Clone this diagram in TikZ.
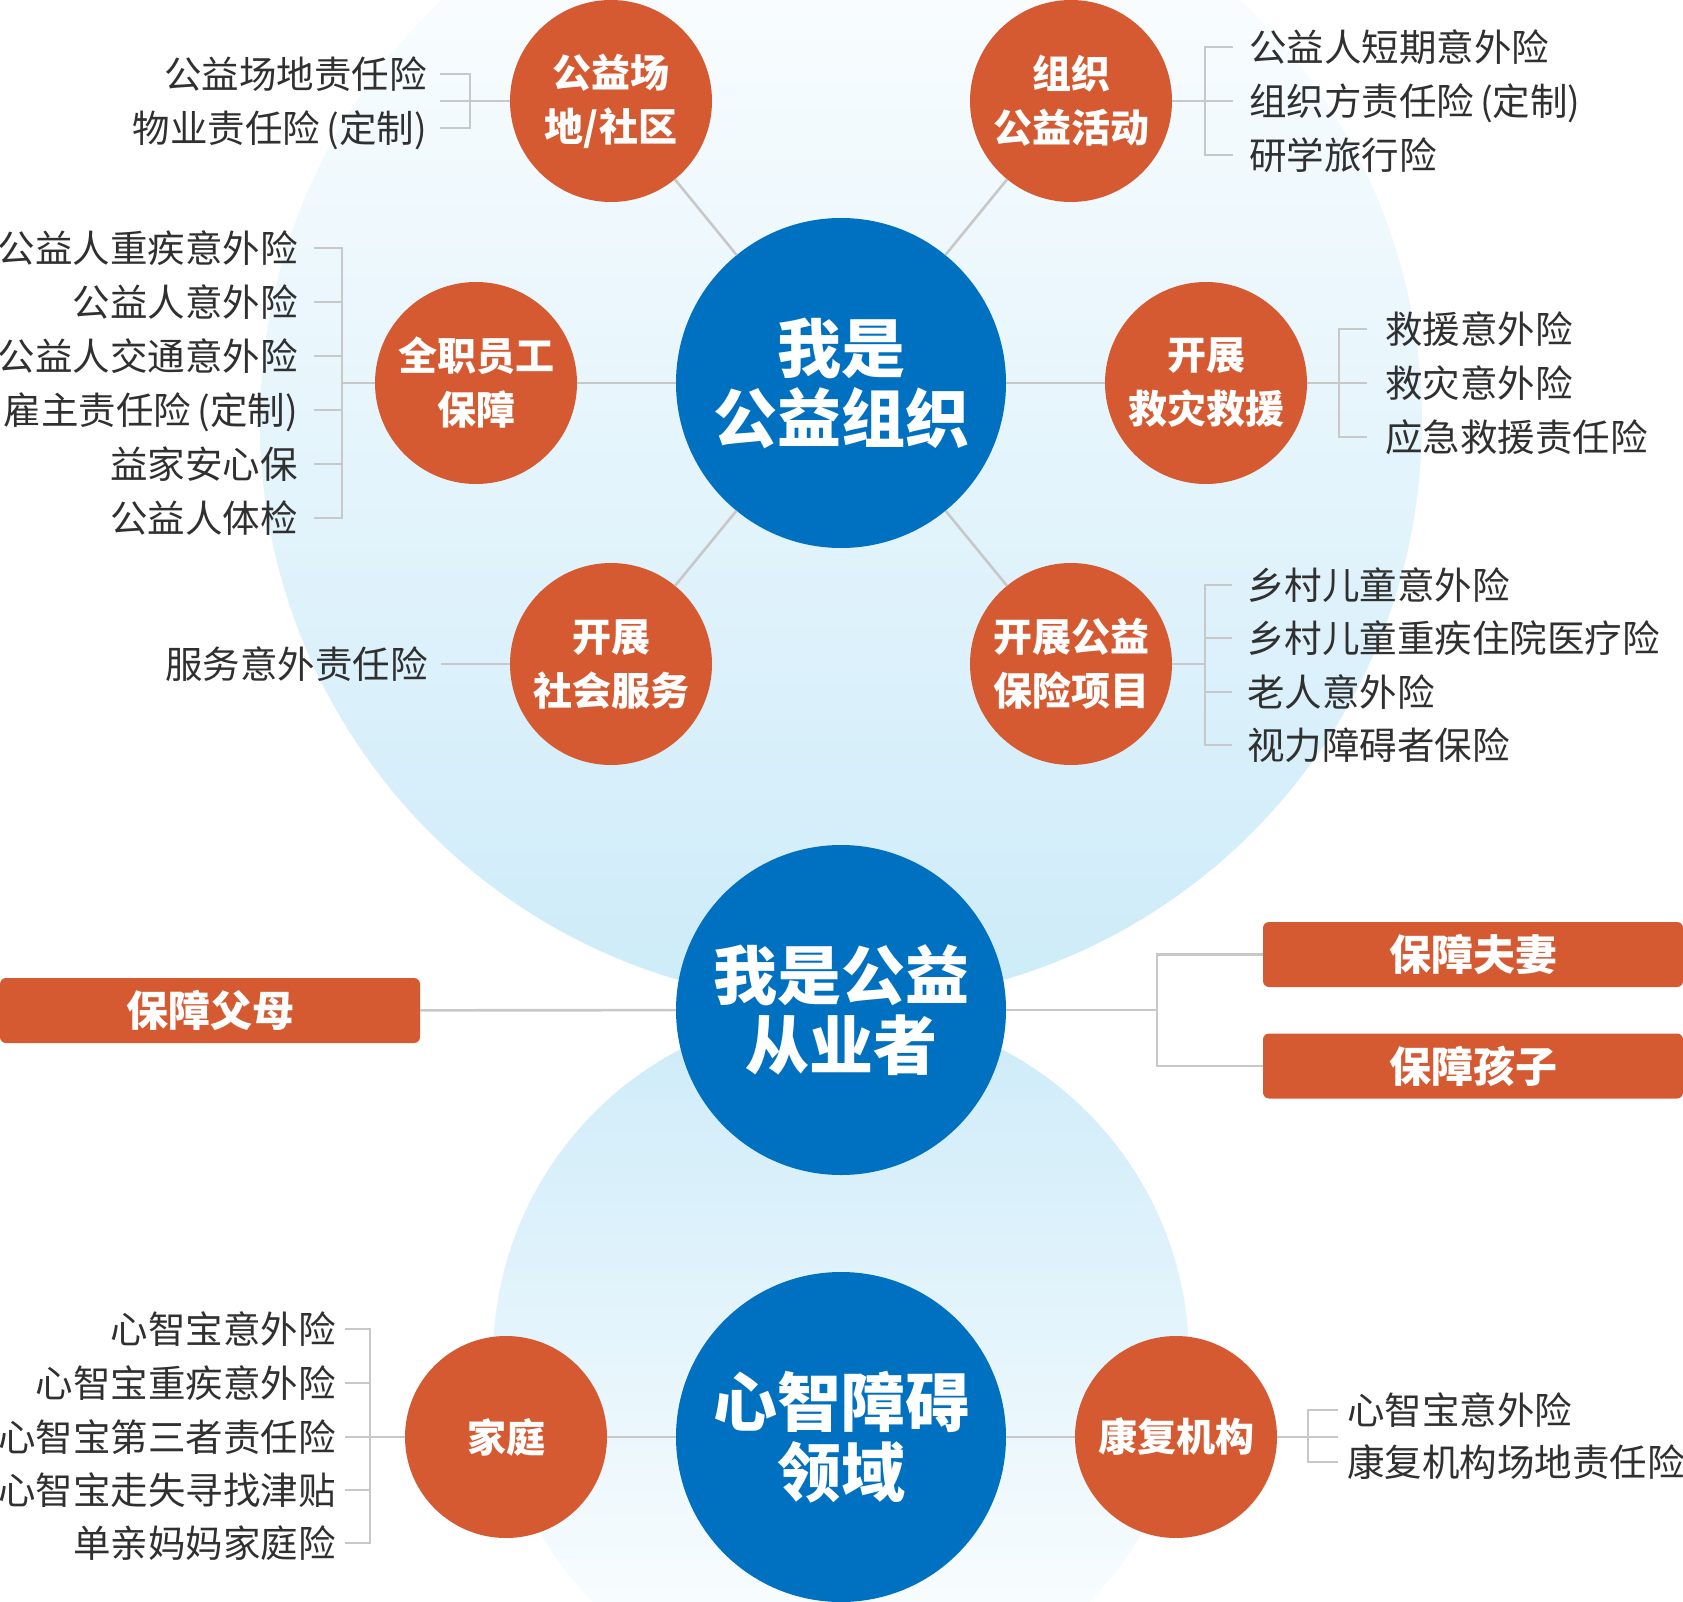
\documentclass[tikz,border=0pt]{standalone}
\usepackage{fontspec}
\setmainfont{Noto Sans CJK SC}
\definecolor{org}{HTML}{D65A31}
\definecolor{hubblue}{HTML}{0070C0}
\definecolor{bgblue}{HTML}{CDEBF9}
\definecolor{linegray}{HTML}{C8C8C8}
\definecolor{txt}{HTML}{303030}
\newcommand{\pl}{\kern6pt(}
\begin{document}
\begin{tikzpicture}[x=1pt,y=-1pt,
  conn/.style={draw=linegray, line width=2.6pt},
  hub/.style={circle, fill=hubblue, minimum size=330pt, inner sep=0pt, text=white, align=center, font=\fontsize{64}{70}\selectfont\bfseries},
  sub/.style={circle, fill=org, minimum size=202pt, inner sep=0pt, text=white, align=center, font=\fontsize{39}{54}\selectfont\bfseries},
  item/.style={inner sep=0pt, text=txt, text height=33pt, text depth=4.5pt, font=\fontsize{37.5}{45}\selectfont},
  bar/.style={rectangle, rounded corners=6pt, fill=org, minimum width=420pt, minimum height=65pt, inner sep=0pt, text=white, font=\fontsize{42}{50}\selectfont\bfseries}]
\useasboundingbox (0,0) rectangle (1683,1602);
\clip (0,0) rectangle (1683,1602);
% background halos
\shade[top color=white, middle color=bgblue!45, bottom color=bgblue] (841,422) circle (581);
\shade[top color=bgblue, bottom color=white] (841,1358) circle (348);

% hubs
\node[hub] (top) at (841,383) {我是\\公益组织};
\node[hub] (mid) at (841,1010) {我是公益\\从业者};
\node[hub] (bot) at (841,1437) {心智障碍\\领域};

% orange circles
\node[sub] (o1) at (611,101) {公益场\\地/社区};
\node[sub] (o2) at (1071,101) {组织\\公益活动};
\node[sub] (o3) at (476,383) {全职员工\\保障};
\node[sub] (o4) at (1206,383) {开展\\救灾救援};
\node[sub] (o5) at (611,664) {开展\\社会服务};
\node[sub] (o6) at (1071,664) {开展公益\\保险项目};
\node[sub] (o7) at (506,1437) {家庭};
\node[sub] (o8) at (1176,1437) {康复机构};

% bars
\node[bar] (b1) at (210,1010.5) {保障父母};
\node[bar] (b2) at (1473,954.5) {保障夫妻};
\node[bar] (b3) at (1473,1066) {保障孩子};

% items
\node[item, anchor=east] (p1) at (427,74) {公益场地责任险};
\node[item, anchor=east] (p2) at (427,128) {物业责任险\pl 定制)};
\node[item, anchor=west] (r1) at (1249,47) {公益人短期意外险};
\node[item, anchor=west] (r2) at (1249,101) {组织方责任险\pl 定制)};
\node[item, anchor=west] (r3) at (1249,155) {研学旅行险};
\node[item, anchor=east] (q1) at (298,248) {公益人重疾意外险};
\node[item, anchor=east] (q2) at (298,302) {公益人意外险};
\node[item, anchor=east] (q3) at (298,356) {公益人交通意外险};
\node[item, anchor=east] (q4) at (298,410) {雇主责任险\pl 定制)};
\node[item, anchor=east] (q5) at (298,464) {益家安心保};
\node[item, anchor=east] (q6) at (298,518) {公益人体检};
\node[item, anchor=west] (u1) at (1385,329) {救援意外险};
\node[item, anchor=west] (u2) at (1385,383) {救灾意外险};
\node[item, anchor=west] (u3) at (1385,437) {应急救援责任险};
\node[item, anchor=east] (v1) at (428,664) {服务意外责任险};
\node[item, anchor=west] (w1) at (1247,585) {乡村儿童意外险};
\node[item, anchor=west] (w2) at (1247,638) {乡村儿童重疾住院医疗险};
\node[item, anchor=west] (w3) at (1247,692) {老人意外险};
\node[item, anchor=west] (w4) at (1247,745) {视力障碍者保险};
\node[item, anchor=east] (h1) at (336,1329) {心智宝意外险};
\node[item, anchor=east] (h2) at (336,1383) {心智宝重疾意外险};
\node[item, anchor=east] (h3) at (336,1437) {心智宝第三者责任险};
\node[item, anchor=east] (h4) at (336,1490) {心智宝走失寻找津贴};
\node[item, anchor=east] (h5) at (336,1543) {单亲妈妈家庭险};
\node[item, anchor=west] (k1) at (1347,1410) {心智宝意外险};
\node[item, anchor=west] (k2) at (1347,1462) {康复机构场地责任险};

% spine junctions
\coordinate (s1) at (470,101);
\coordinate (s2) at (1205,101);
\coordinate (s3) at (342,383);
\coordinate (s4) at (1339,383);
\coordinate (s6) at (1205,664);
\coordinate (s7) at (370,1437);
\coordinate (s8) at (1308,1437);
\coordinate (j1) at (1157,1010);

% hub connectors
\draw[conn] (top) -- (o1);
\draw[conn] (top) -- (o2);
\draw[conn] (top) -- (o3);
\draw[conn] (top) -- (o4);
\draw[conn] (top) -- (o5);
\draw[conn] (top) -- (o6);
\draw[conn] (bot) -- (o7);
\draw[conn] (bot) -- (o8);
\draw[conn] (mid) -- (b1);
\draw[conn] (mid) -- (j1);
\draw[conn] (b2.west) -| (j1) |- (b3.west);

% brackets: 公益场地
\draw[conn] ([xshift=13pt]p1.east) -| (s1) |- ([xshift=13pt]p2.east);
\draw[conn] ([xshift=13pt]p1.east |- s1) -- (o1);
% 组织公益活动
\draw[conn] ([xshift=-16pt]r1.west) -| (s2) |- ([xshift=-16pt]r3.west);
\draw[conn] (o2) -- ([xshift=-16pt]r2.west);
% 全职员工保障
\draw[conn] ([xshift=16pt]q1.east) -| (s3) |- ([xshift=16pt]q6.east);
\draw[conn] ([xshift=16pt]q2.east) -- (q2.east -| s3);
\draw[conn] ([xshift=16pt]q3.east) -- (q3.east -| s3);
\draw[conn] ([xshift=16pt]q4.east) -- (q4.east -| s3);
\draw[conn] ([xshift=16pt]q5.east) -- (q5.east -| s3);
\draw[conn] (s3) -- (o3);
% 开展救灾救援
\draw[conn] ([xshift=-18pt]u1.west) -| (s4) |- ([xshift=-18pt]u3.west);
\draw[conn] (o4) -- ([xshift=-18pt]u2.west);
% 开展社会服务
\draw[conn] ([xshift=13pt]v1.east) -- (o5);
% 开展公益保险项目
\draw[conn] ([xshift=-15pt]w1.west) -| (s6) |- ([xshift=-15pt]w4.west);
\draw[conn] ([xshift=-15pt]w2.west) -- (w2.west -| s6);
\draw[conn] ([xshift=-15pt]w3.west) -- (w3.west -| s6);
\draw[conn] (o6) -- (s6);
% 家庭
\draw[conn] ([xshift=9pt]h1.east) -| (s7) |- ([xshift=9pt]h5.east);
\draw[conn] ([xshift=9pt]h2.east) -- (h2.east -| s7);
\draw[conn] ([xshift=9pt]h4.east) -- (h4.east -| s7);
\draw[conn] ([xshift=9pt]h3.east) -- (o7);
% 康复机构
\draw[conn] ([xshift=-9pt]k1.west) -| (s8) |- ([xshift=-9pt]k2.west);
\draw[conn] (o8) -- ([xshift=-9pt]k1.west |- s8);
\end{tikzpicture}
\end{document}
